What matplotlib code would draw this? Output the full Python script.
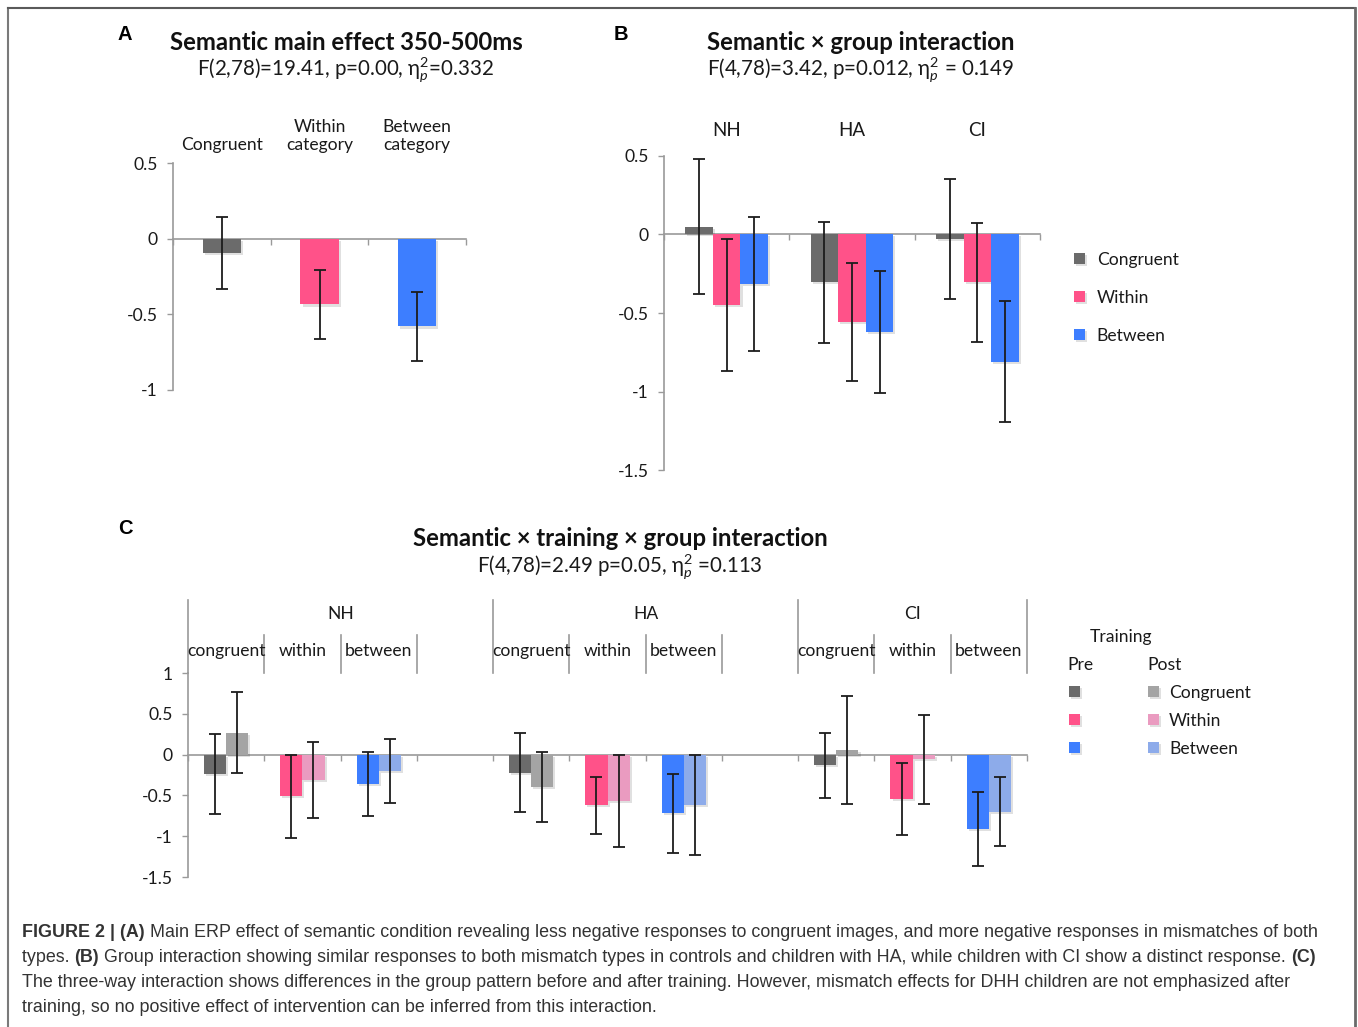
import matplotlib
matplotlib.use("Agg")
import numpy as np
import matplotlib.pyplot as plt
import matplotlib.patheffects as pe
from matplotlib.lines import Line2D
from matplotlib.transforms import blended_transform_factory

plt.rcParams["font.family"] = ["Lato", "DejaVu Sans"]
plt.rcParams["axes.unicode_minus"] = False
plt.rcParams["mathtext.fontset"] = "custom"
plt.rcParams["mathtext.rm"] = "Lato"
plt.rcParams["mathtext.it"] = "Lato:italic"

W, H, DPI = 1358, 1027, 100

# ---- panel A: semantic main effect
a_labels = ["Congruent", "Within\ncategory", "Between\ncategory"]
a_means = [-0.095, -0.435, -0.58]
a_errs = [0.24, 0.225, 0.228]

# ---- panel B: semantic x group
b_groups = ["NH", "HA", "CI"]
b_congruent = [0.05, -0.305, -0.03]
b_within = [-0.45, -0.555, -0.305]
b_between = [-0.315, -0.62, -0.81]
b_congruent_err = [0.43, 0.385, 0.38]
b_within_err = [0.42, 0.375, 0.38]
b_between_err = [0.425, 0.385, 0.385]

# ---- panel C: semantic x training x group
c_groups = ["NH", "HA", "CI"]
c_conds = ["congruent", "within", "between"]
c_pre_congruent = [-0.24, -0.22, -0.13]
c_post_congruent = [0.27, -0.395, 0.06]
c_pre_within = [-0.51, -0.62, -0.54]
c_post_within = [-0.315, -0.57, -0.055]
c_pre_between = [-0.36, -0.72, -0.91]
c_post_between = [-0.2, -0.62, -0.70]
c_pre_congruent_err = [0.49, 0.48, 0.40]
c_post_congruent_err = [0.50, 0.425, 0.66]
c_pre_within_err = [0.51, 0.35, 0.44]
c_post_within_err = [0.465, 0.56, 0.545]
c_pre_between_err = [0.39, 0.48, 0.45]
c_post_between_err = [0.39, 0.61, 0.42]

PRE = ["#6b6b6b", "#ff5289", "#3d7eff"]
POST = ["#a4a4a4", "#ea9bc0", "#8dabea"]
AXC = "#9a9a9a"
ERRC = "#1c1c1c"
TXT = "#1a1a1a"
FS = 12.6

fig = plt.figure(figsize=(W / DPI, H / DPI), dpi=DPI)
fig.patch.set_facecolor("white")


def px_axes(x0, x1, y0, y1):
    return fig.add_axes([x0 / W, 1 - y1 / H, (x1 - x0) / W, (y1 - y0) / H])


def ftext(x, y, s, **kw):
    return fig.text(x / W, 1 - y / H, s, **kw)


def style(ax, ylim, yticks, xticks):
    ax.set_ylim(*ylim)
    ax.set_yticks(yticks)
    ax.set_yticklabels([f"{t:g}" for t in yticks])
    ax.set_xticks(xticks)
    ax.set_xticklabels([])
    for s in ["top", "right"]:
        ax.spines[s].set_visible(False)
    ax.spines["bottom"].set_position(("data", 0))
    for s in ["left", "bottom"]:
        ax.spines[s].set_color(AXC)
        ax.spines[s].set_linewidth(1.2)
    ax.tick_params(axis="y", direction="out", length=4, width=1, color=AXC,
                   pad=7, labelsize=FS, labelcolor=TXT)
    ax.tick_params(axis="x", direction="out", length=4, width=1, color=AXC)
    ax.patch.set_alpha(0)


shadow = [pe.SimplePatchShadow(offset=(1.5, -1.5), shadow_rgbFace="k", alpha=0.12), pe.Normal()]
ekw = dict(fmt="none", ecolor=ERRC, elinewidth=1.3, capsize=4, capthick=1.3, zorder=5)

# ================= A
axA = px_axes(173, 466, 163, 390)
xa = np.arange(len(a_means)) + 0.5
bars = axA.bar(xa, a_means, width=0.39, color=PRE, zorder=3)
for b in bars:
    b.set_path_effects(shadow)
axA.errorbar(xa, a_means, yerr=a_errs, **ekw)
axA.set_xlim(0, 3)
style(axA, (-1, 0.5), [-1, -0.5, 0, 0.5], [0, 1, 2, 3])
for x, lab in zip(xa, a_labels):
    axA.annotate(lab, xy=(x, 1), xycoords=("data", "axes fraction"), xytext=(0, 7),
                 textcoords="offset points", ha="center", va="bottom", fontsize=FS,
                 color=TXT, linespacing=1.2)

ftext(125, 35, "A", fontsize=14.5, fontweight="bold", family="Liberation Sans", ha="center", va="center")
ftext(346, 43, "Semantic main effect 350-500ms", fontsize=17.2, fontweight="bold", ha="center", va="center", color="#111")
ftext(346, 70, r"F(2,78)=19.41, p=0.00, η$^{2}_{p}$=0.332", fontsize=14.8, ha="center", va="center", color=TXT)

# ================= B
axB = px_axes(664, 1040, 155.7, 470.4)
xb = np.arange(len(b_groups)) + 0.5
bw = 0.22
series_b = [(b_congruent, b_congruent_err, "Congruent"),
            (b_within, b_within_err, "Within"),
            (b_between, b_between_err, "Between")]
handles = []
for k, (vals, errs, lab) in enumerate(series_b):
    xs = xb + (k - 1) * bw
    bc = axB.bar(xs, vals, width=bw, color=PRE[k], zorder=3, label=lab)
    for b in bc:
        b.set_path_effects(shadow)
    axB.errorbar(xs, vals, yerr=errs, **ekw)
    handles.append(bc)
axB.set_xlim(0, 3)
style(axB, (-1.5, 0.5), [-1.5, -1, -0.5, 0, 0.5], [0, 1, 2, 3])
for x, g in zip(xb, b_groups):
    axB.annotate(g, xy=(x, 1), xycoords=("data", "axes fraction"), xytext=(0, 18),
                 textcoords="offset points", ha="center", va="center", fontsize=13.5, color=TXT)
axB.legend(handles=handles, labels=[s[2] for s in series_b], loc="upper left",
           bbox_to_anchor=(1074 / W, 1 - 252 / H), bbox_transform=fig.transFigure,
           frameon=False, fontsize=FS, handlelength=0.6, handleheight=0.6,
           handletextpad=0.7, labelspacing=1.25, borderpad=0, borderaxespad=0,
           labelcolor=TXT)

ftext(621, 35, "B", fontsize=14.5, fontweight="bold", family="Liberation Sans", ha="center", va="center")
ftext(861, 43, "Semantic × group interaction", fontsize=17.2, fontweight="bold", ha="center", va="center", color="#111")
ftext(861, 70, r"F(4,78)=3.42, p=0.012, η$^{2}_{p}$ = 0.149", fontsize=14.8, ha="center", va="center", color=TXT)

# ================= C
axC = px_axes(188, 1027, 673, 877)
pre_vals = [c_pre_congruent, c_pre_within, c_pre_between]
post_vals = [c_post_congruent, c_post_within, c_post_between]
pre_errs = [c_pre_congruent_err, c_pre_within_err, c_pre_between_err]
post_errs = [c_post_congruent_err, c_post_within_err, c_post_between_err]
cw = 0.29
pre_h, post_h = [], []
for k in range(3):
    slots = np.array([4 * g + k for g in range(len(c_groups))]) + 0.5
    for vals, errs, cols, off, store in [(pre_vals[k], pre_errs[k], PRE, -cw / 2, pre_h),
                                         (post_vals[k], post_errs[k], POST, cw / 2, post_h)]:
        bc = axC.bar(slots + off, vals, width=cw, color=cols[k], zorder=3)
        for b in bc:
            b.set_path_effects(shadow)
        axC.errorbar(slots + off, vals, yerr=errs, **ekw)
        store.append(bc)
axC.set_xlim(0, 11)
style(axC, (-1.5, 1), [-1.5, -1, -0.5, 0, 0.5, 1], np.arange(0, 12))

# category separators above panel C
tr = blended_transform_factory(axC.transData, axC.transAxes)
for xb_ in range(12):
    top = 1.358 if xb_ in (0, 4, 8, 11) else 1.186
    axC.add_line(Line2D([xb_, xb_], [1.0, top], transform=tr, color=AXC, lw=1.2, clip_on=False))
group_spans = [(0, 4), (4, 8), (8, 11)]
for g, (s0, s1) in zip(c_groups, group_spans):
    axC.text((s0 + s1) / 2, 1.29, g, transform=tr, ha="center", va="center", fontsize=FS, color=TXT)
    for k, cond in enumerate(c_conds):
        axC.text(s0 + k + 0.5, 1.11, cond, transform=tr, ha="center", va="center", fontsize=FS, color=TXT)

leg_pre = axC.legend(handles=pre_h, labels=["", "", ""], loc="upper left",
                     bbox_to_anchor=(1069 / W, 1 - 685 / H), bbox_transform=fig.transFigure,
                     frameon=False, fontsize=FS, handlelength=0.6, handleheight=0.6,
                     handletextpad=0.0, labelspacing=0.68, borderpad=0, borderaxespad=0)
axC.add_artist(leg_pre)
axC.legend(handles=post_h, labels=["Congruent", "Within", "Between"], loc="upper left",
           bbox_to_anchor=(1148 / W, 1 - 685 / H), bbox_transform=fig.transFigure,
           frameon=False, fontsize=FS, handlelength=0.6, handleheight=0.6,
           handletextpad=0.6, labelspacing=0.68, borderpad=0, borderaxespad=0, labelcolor=TXT)
ftext(1090, 637, "Training", fontsize=FS, ha="left", va="center", color=TXT)
ftext(1067, 665, "Pre", fontsize=FS, ha="left", va="center", color=TXT)
ftext(1147, 665, "Post", fontsize=FS, ha="left", va="center", color=TXT)

ftext(125, 528, "C", fontsize=14.5, fontweight="bold", family="Liberation Sans", ha="center", va="center")
ftext(620, 539, "Semantic × training × group interaction", fontsize=17.2, fontweight="bold", ha="center", va="center", color="#111")
ftext(620, 567, r"F(4,78)=2.49 p=0.05, η$^{2}_{p}$ =0.113", fontsize=14.8, ha="center", va="center", color=TXT)

# ================= caption
caption = [
    [("FIGURE 2 | (A)", True), (" Main ERP effect of semantic condition revealing less negative responses to congruent images, and more negative responses in mismatches of both", False)],
    [("types. ", False), ("(B)", True), (" Group interaction showing similar responses to both mismatch types in controls and children with HA, while children with CI show a distinct response. ", False), ("(C)", True)],
    [("The three-way interaction shows differences in the group pattern before and after training. However, mismatch effects for DHH children are not emphasized after", False)],
    [("training, so no positive effect of intervention can be inferred from this interaction.", False)],
]
renderer = fig.canvas.get_renderer()
for i, runs in enumerate(caption):
    x = 22
    y = 937 + 25 * i
    for s, bold in runs:
        t = ftext(x, y, s, fontsize=12.9, family="Liberation Sans", color="#333333",
                  fontweight="bold" if bold else "normal", ha="left", va="baseline")
        x += t.get_window_extent(renderer).width

# frame around the figure
fig.add_artist(Line2D([8 / W, 8 / W], [0, 1 - 8 / H], color="#7a7a7a", lw=1.5))
fig.add_artist(Line2D([8 / W, 1355 / W], [1 - 8 / H, 1 - 8 / H], color="#5a5a5a", lw=1.5))
fig.add_artist(Line2D([1355 / W, 1355 / W], [0, 1 - 8 / H], color="#6a6a6a", lw=2))

fig.savefig("out.png", dpi=DPI, facecolor="white")
